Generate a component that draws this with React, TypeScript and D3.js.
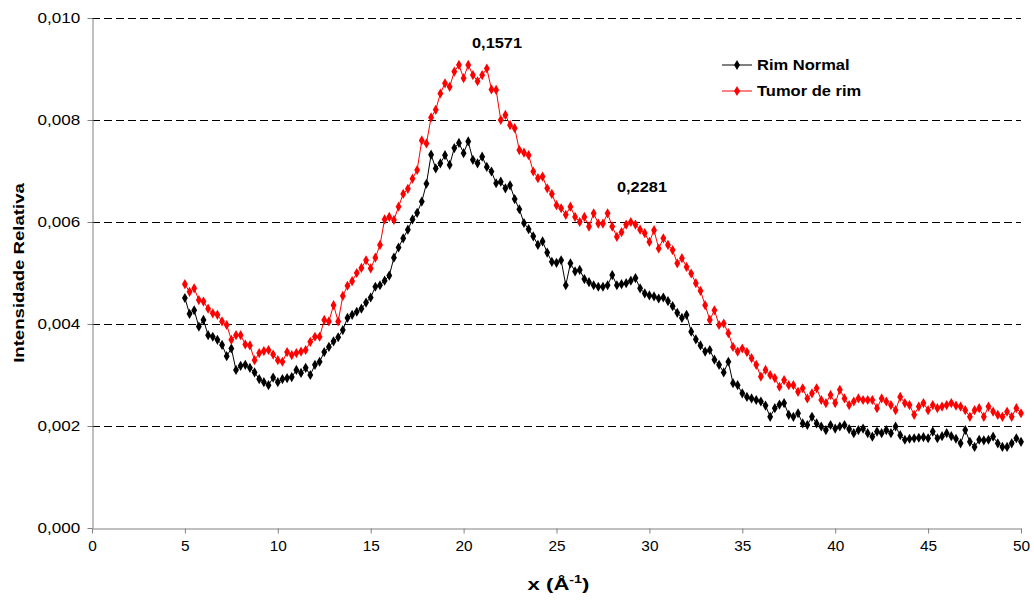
import React, { useEffect, useRef } from "react";
import * as d3 from "d3";

// x grid (Å^-1), step 0.25 from 5 to 50
const xStart = 5;
const xStep = 0.25;

// Intensities in units of 1e-3
const rimNormal = [
  4.51, 4.2, 4.27, 3.95, 4.08, 3.78, 3.75, 3.69,
  3.59, 3.37, 3.52, 3.1, 3.18, 3.2, 3.14, 3.05,
  2.92, 2.86, 2.8, 2.95, 2.86, 2.92, 2.94, 2.96,
  3.1, 3.04, 3.14, 3.0, 3.2, 3.26, 3.45, 3.55,
  3.66, 3.74, 3.88, 4.12, 4.18, 4.24, 4.3, 4.42,
  4.52, 4.73, 4.76, 4.85, 4.95, 5.3, 5.5, 5.68,
  5.85, 6.05, 6.18, 6.4, 6.75, 7.32, 7.05, 7.15,
  7.31, 7.12, 7.45, 7.55, 7.35, 7.58, 7.22, 7.15,
  7.28, 7.08, 6.99, 6.76, 6.79, 6.66, 6.72, 6.45,
  6.25, 5.98, 5.86, 5.72, 5.55, 5.62, 5.4, 5.22,
  5.2, 5.25, 4.76, 5.19, 5.03, 5.06, 4.88, 4.82,
  4.76, 4.73, 4.73, 4.76, 4.96, 4.76, 4.78, 4.8,
  4.85, 4.9, 4.7, 4.6, 4.56, 4.54, 4.5, 4.52,
  4.45, 4.35, 4.22, 4.12, 4.18, 3.85, 3.7, 3.58,
  3.46, 3.49, 3.3, 3.2, 3.05, 3.26, 2.84, 2.8,
  2.64, 2.57, 2.54, 2.51, 2.48, 2.4, 2.18, 2.35,
  2.42, 2.45, 2.22, 2.18, 2.25, 2.05, 2.02, 2.18,
  2.05, 1.99, 1.92, 2.02, 1.95, 1.99, 2.02, 1.94,
  1.86, 1.92, 1.95, 1.86, 1.79, 1.89, 1.86, 1.92,
  1.86, 1.99, 1.82, 1.73, 1.75, 1.76, 1.77, 1.78,
  1.76, 1.89, 1.76, 1.8, 1.86, 1.8, 1.75, 1.66,
  1.92, 1.69, 1.59, 1.73, 1.72, 1.73, 1.79, 1.66,
  1.59, 1.59, 1.66, 1.76, 1.69,
];

const tumorRim = [
  4.78, 4.63, 4.7, 4.47, 4.44, 4.3, 4.21, 4.18,
  4.05, 3.98, 3.69, 3.78, 3.78, 3.6, 3.58, 3.29,
  3.43, 3.47, 3.49, 3.4, 3.29, 3.26, 3.45, 3.39,
  3.43, 3.46, 3.49, 3.65, 3.75, 3.75, 4.08, 4.05,
  4.37, 4.05, 4.55, 4.75, 4.84, 5.0, 5.1, 5.25,
  5.09, 5.3, 5.55, 6.05, 6.1, 6.04, 6.3, 6.55,
  6.65, 6.85, 7.02, 7.6, 7.54, 8.05, 8.2, 8.52,
  8.72, 8.65, 8.95, 9.08, 8.82, 9.08, 8.88, 8.76,
  8.88, 9.01, 8.6, 8.59, 8.0, 8.1, 7.9, 7.84,
  7.41, 7.36, 7.31, 6.99, 6.86, 6.89, 6.66, 6.55,
  6.33, 6.27, 6.14, 6.3, 6.1, 6.0, 6.1, 5.91,
  6.17, 5.97, 5.97, 6.17, 5.91, 5.71, 5.8, 5.95,
  6.0, 5.95, 5.85, 5.78, 5.61, 5.84, 5.48, 5.68,
  5.55, 5.45, 5.19, 5.29, 5.12, 4.99, 4.8, 4.65,
  4.37, 4.08, 4.27, 3.98, 4.01, 3.82, 3.55, 3.46,
  3.52, 3.45, 3.33, 3.2, 2.97, 3.1, 3.0, 2.94,
  2.77, 2.9, 2.8, 2.8, 2.67, 2.74, 2.54, 2.64,
  2.74, 2.51, 2.45, 2.61, 2.45, 2.71, 2.54, 2.41,
  2.48, 2.54, 2.51, 2.51, 2.51, 2.35, 2.54, 2.48,
  2.41, 2.31, 2.57, 2.45, 2.41, 2.22, 2.38, 2.45,
  2.31, 2.41, 2.35, 2.38, 2.41, 2.45, 2.4, 2.38,
  2.31, 2.18, 2.31, 2.35, 2.18, 2.38, 2.28, 2.22,
  2.18, 2.28, 2.18, 2.35, 2.25,
];

const yTicks = [0, 0.002, 0.004, 0.006, 0.008, 0.01];
const xTicks = [0, 5, 10, 15, 20, 25, 30, 35, 40, 45, 50];

const seriesNames = ["Rim Normal", "Tumor de rim"];
const seriesColors = ["#000000", "#FF0000"];

const annotations = [
  { label: "0,1571", x: 21.8, y: 0.00941 },
  { label: "0,2281", x: 29.6, y: 0.00659 },
];

const W = 1034;
const H = 601;
const M = { left: 92, right: 1021, top: 18, bottom: 528 };

export default function App() {
  const ref = useRef<SVGSVGElement>(null);

  useEffect(() => {
    const svg = d3.select(ref.current);
    svg.selectAll("*").remove();
    const font = "Liberation Sans, Arial, sans-serif";

    const x = d3.scaleLinear().domain([0, 50]).range([M.left, M.right]);
    const y = d3.scaleLinear().domain([0, 0.01]).range([M.bottom, M.top]);

    // gridlines
    svg
      .append("g")
      .selectAll("line")
      .data(yTicks.filter((t) => t > 0))
      .join("line")
      .attr("x1", M.left)
      .attr("x2", M.right)
      .attr("y1", (d) => Math.round(y(d)) + 0.5)
      .attr("y2", (d) => Math.round(y(d)) + 0.5)
      .attr("stroke", "#000")
      .attr("stroke-width", 1)
      .attr("stroke-dasharray", "8,4");

    const fmt = (d: number) => d3.format(".3f")(d).replace(".", ",");

    // y axis
    const yAxis = svg
      .append("g")
      .attr("transform", `translate(${M.left + 0.5},0)`)
      .call(d3.axisLeft(y).tickValues(yTicks).tickFormat(fmt as any).tickSize(5).tickSizeOuter(0));
    yAxis.select(".domain").attr("stroke", "#808080");
    yAxis.selectAll(".tick line").attr("stroke", "#808080");
    yAxis
      .selectAll(".tick text")
      .attr("font-family", font)
      .attr("font-size", 14)
      .attr("fill", "#000")
      .attr("x", -10)
      .attr("transform", "scale(1.22,1)");

    // x axis
    const xAxis = svg
      .append("g")
      .attr("transform", `translate(0,${M.bottom + 0.5})`)
      .call(d3.axisBottom(x).tickValues(xTicks).tickFormat(d3.format("d") as any).tickSize(5).tickSizeOuter(0));
    xAxis.select(".domain").attr("stroke", "#808080");
    xAxis.selectAll(".tick line").attr("stroke", "#808080");
    xAxis
      .selectAll(".tick text")
      .attr("font-family", font)
      .attr("font-size", 14)
      .attr("fill", "#000")
      .attr("y", 13)
      .attr("transform", "scale(1.1,1)");

    // axis titles
    svg
      .append("text")
      .attr("transform", `translate(24,${(M.top + M.bottom) / 2}) rotate(-90) scale(1.24,1)`)
      .attr("text-anchor", "middle")
      .attr("font-family", font)
      .attr("font-size", 15)
      .attr("font-weight", "bold")
      .text("Intensidade Relativa");

    const xt = svg
      .append("text")
      .attr("transform", `translate(${(M.left + M.right) / 2 + 2},590) scale(1.3,1)`)
      .attr("text-anchor", "middle")
      .attr("font-family", font)
      .attr("font-size", 17)
      .attr("font-weight", "bold");
    xt.append("tspan").text("x (Å");
    xt.append("tspan").attr("dy", -7).attr("font-size", 11).text("-1");
    xt.append("tspan").attr("dy", 7).text(")");

    const datasets = [rimNormal, tumorRim];
    const diamond = d3.symbol().type(d3.symbolDiamond).size(30);

    datasets.forEach((vals, si) => {
      const pts = vals.map((v, i) => [xStart + i * xStep, v / 1000] as [number, number]);
      const line = d3
        .line<[number, number]>()
        .x((d) => x(d[0]))
        .y((d) => y(d[1]));
      svg
        .append("path")
        .attr("d", line(pts))
        .attr("fill", "none")
        .attr("stroke", seriesColors[si])
        .attr("stroke-width", 1);
      svg
        .append("g")
        .selectAll("path")
        .data(pts)
        .join("path")
        .attr("d", diamond()!)
        .attr("transform", (d) => `translate(${x(d[0])},${y(d[1])})`)
        .attr("fill", seriesColors[si]);
    });

    // annotations
    svg
      .append("g")
      .selectAll("text")
      .data(annotations)
      .join("text")
      .attr("transform", (d) => `translate(${x(d.x)},${y(d.y)}) scale(1.17,1)`)
      .attr("text-anchor", "middle")
      .attr("font-family", font)
      .attr("font-size", 14)
      .attr("font-weight", "bold")
      .text((d) => d.label);

    // legend
    const lg = svg.append("g").attr("transform", "translate(722,65)");
    seriesNames.forEach((name, i) => {
      const g = lg.append("g").attr("transform", `translate(0,${i * 26})`);
      g.append("line")
        .attr("x1", 0)
        .attr("x2", 30)
        .attr("y1", 0)
        .attr("y2", 0)
        .attr("stroke", seriesColors[i])
        .attr("stroke-width", 1);
      g.append("path").attr("d", diamond()!).attr("transform", "translate(15,0)").attr("fill", seriesColors[i]);
      g.append("text")
        .attr("transform", "translate(35,5) scale(1.18,1)")
        .attr("font-family", font)
        .attr("font-size", 14)
        .attr("font-weight", "bold")
        .text(name);
    });
  }, []);

  return (
    <svg
      ref={ref}
      width={W}
      height={H}
      style={{ position: "absolute", left: 0, top: 0, background: "#fff" }}
    />
  );
}
